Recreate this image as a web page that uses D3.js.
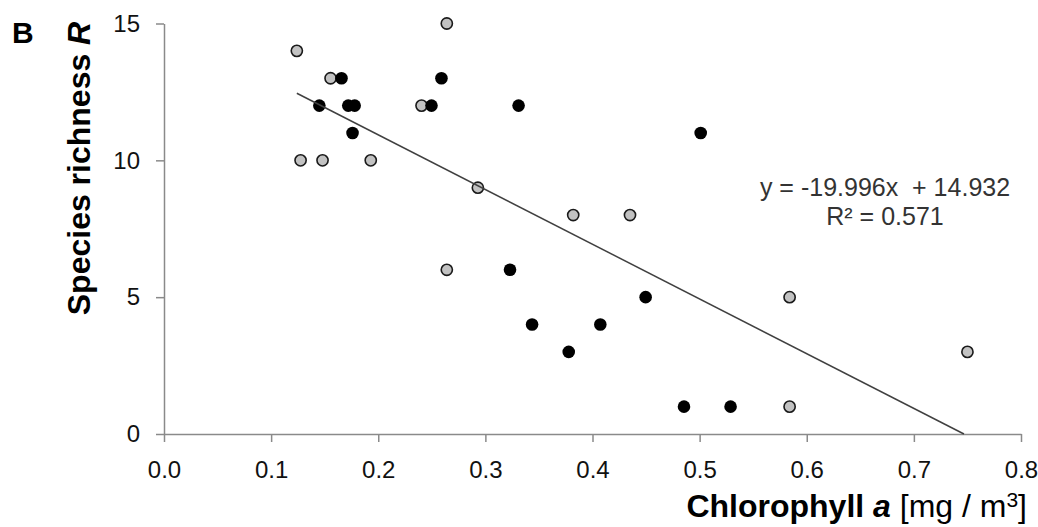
<!DOCTYPE html>
<html lang="en">
  <head>
    <meta charset="UTF-8" />
    <title>Species richness vs chlorophyll a</title>
    <style>
      body {
        margin: 0;
        background: #fff;
      }
      #viz text {
        font-family: "Liberation Sans", Arial, sans-serif;
      }
    </style>
  </head>
  <body>
    <div id="viz"></div>
    <script src="https://cdnjs.cloudflare.com/ajax/libs/d3/7.8.5/d3.min.js"></script>
    <script>
      // gray (open) sites
      const grayX = [0.124, 0.1555, 0.264, 0.2404, 0.1275, 0.148, 0.193, 0.293, 0.382, 0.435, 0.264, 0.584, 0.584, 0.75];
      const grayY = [14, 13, 15, 12, 10, 10, 10, 9, 8, 8, 6, 5, 1, 3];
      // black (filled) sites
      const blackX = [0.1657, 0.259, 0.145, 0.172, 0.178, 0.2497, 0.331, 0.176, 0.501, 0.323, 0.4496, 0.3436, 0.4073, 0.3778, 0.4854, 0.5289];
      const blackY = [13, 13, 12, 12, 12, 12, 12, 11, 11, 6, 5, 4, 4, 3, 1, 1];

      const xTicks = [0, 0.1, 0.2, 0.3, 0.4, 0.5, 0.6, 0.7, 0.8];
      const yTicks = [0, 5, 10, 15];

      const slope = -19.996,
            intercept = 14.932,
            r2 = 0.571;

      let width = 1038,
          height = 527,
          margin = { top: 23.5, right: 17, bottom: 93, left: 164 };

      let svg = d3.select("#viz")
        .append("svg")
        .attr("width", width)
        .attr("height", height);

      let x = d3.scaleLinear()
        .domain([0, 0.8])
        .range([margin.left, width - margin.right]);

      let y = d3.scaleLinear()
        .domain([0, 15])
        .range([height - margin.bottom, margin.top]);

      let axisColor = "#8a8a8a";

      // y axis
      let yAxis = svg.append("g")
        .attr("transform", `translate(${margin.left}, 0)`)
        .call(d3.axisLeft(y).tickValues(yTicks).tickFormat(d3.format("d")).tickSize(8).tickSizeOuter(0).tickPadding(16));

      // x axis
      let xAxis = svg.append("g")
        .attr("transform", `translate(0, ${y(0)})`)
        .call(d3.axisBottom(x).tickValues(xTicks).tickFormat(d3.format(".1f")).tickSize(8).tickSizeOuter(0).tickPadding(19));

      [yAxis, xAxis].forEach(a => {
        a.select(".domain").attr("stroke", axisColor).attr("stroke-width", 1.5);
        a.selectAll(".tick line").attr("stroke", axisColor).attr("stroke-width", 1.5);
        a.selectAll(".tick text")
          .attr("fill", "#111")
          .style("font-size", "24px");
      });

      let plot = svg.append("g");

      plot.selectAll(".gray")
        .data(d3.zip(grayX, grayY))
        .join("circle")
        .attr("class", "gray")
        .attr("cx", d => x(d[0]))
        .attr("cy", d => y(d[1]))
        .attr("r", 5.6)
        .attr("fill", "#c2c2c2")
        .attr("stroke", "#1a1a1a")
        .attr("stroke-width", 1.6);

      plot.selectAll(".black")
        .data(d3.zip(blackX, blackY))
        .join("circle")
        .attr("class", "black")
        .attr("cx", d => x(d[0]))
        .attr("cy", d => y(d[1]))
        .attr("r", 6.3)
        .attr("fill", "#000");

      // trend line, from the smallest x until it reaches y = 0
      let allX = grayX.concat(blackX);
      let x0 = d3.min(allX),
          x1 = Math.min(d3.max(allX), -intercept / slope);

      svg.append("line")
        .attr("x1", x(x0))
        .attr("y1", y(slope * x0 + intercept))
        .attr("x2", x(x1))
        .attr("y2", y(slope * x1 + intercept))
        .attr("stroke", "#404040")
        .attr("stroke-width", 1.5);

      // equation
      let eq = svg.append("text")
        .attr("x", 885)
        .attr("y", 196)
        .attr("text-anchor", "middle")
        .attr("fill", "#333")
        .style("font-size", "25px")
        .style("white-space", "pre");
      eq.append("tspan").text(`y = ${slope.toFixed(3)}x  + ${intercept.toFixed(3)}`);
      eq.append("tspan").attr("x", 885).attr("dy", 29).text(`R² = ${r2.toFixed(3)}`);

      // panel letter
      svg.append("text")
        .attr("x", 12)
        .attr("y", 43)
        .style("font-size", "30px")
        .style("font-weight", "bold")
        .text("B");

      // y axis title
      let yt = svg.append("text")
        .attr("transform", `translate(90, ${(20 + 317) / 2}) rotate(-90)`)
        .attr("text-anchor", "middle")
        .style("font-size", "32px")
        .style("font-weight", "bold");
      yt.append("tspan").text("Species richness ");
      yt.append("tspan").style("font-style", "italic").text("R");

      // x axis title
      let xt = svg.append("text")
        .attr("x", 1027)
        .attr("y", 517)
        .attr("text-anchor", "end")
        .style("font-size", "32px");
      xt.append("tspan").style("font-weight", "bold").text("Chlorophyll ");
      xt.append("tspan").style("font-weight", "bold").style("font-style", "italic").text("a");
      xt.append("tspan").text(" [mg / m");
      xt.append("tspan").attr("dy", -10).style("font-size", "21px").text("3");
      xt.append("tspan").attr("dy", 10).text("]");
    </script>
  </body>
</html>
